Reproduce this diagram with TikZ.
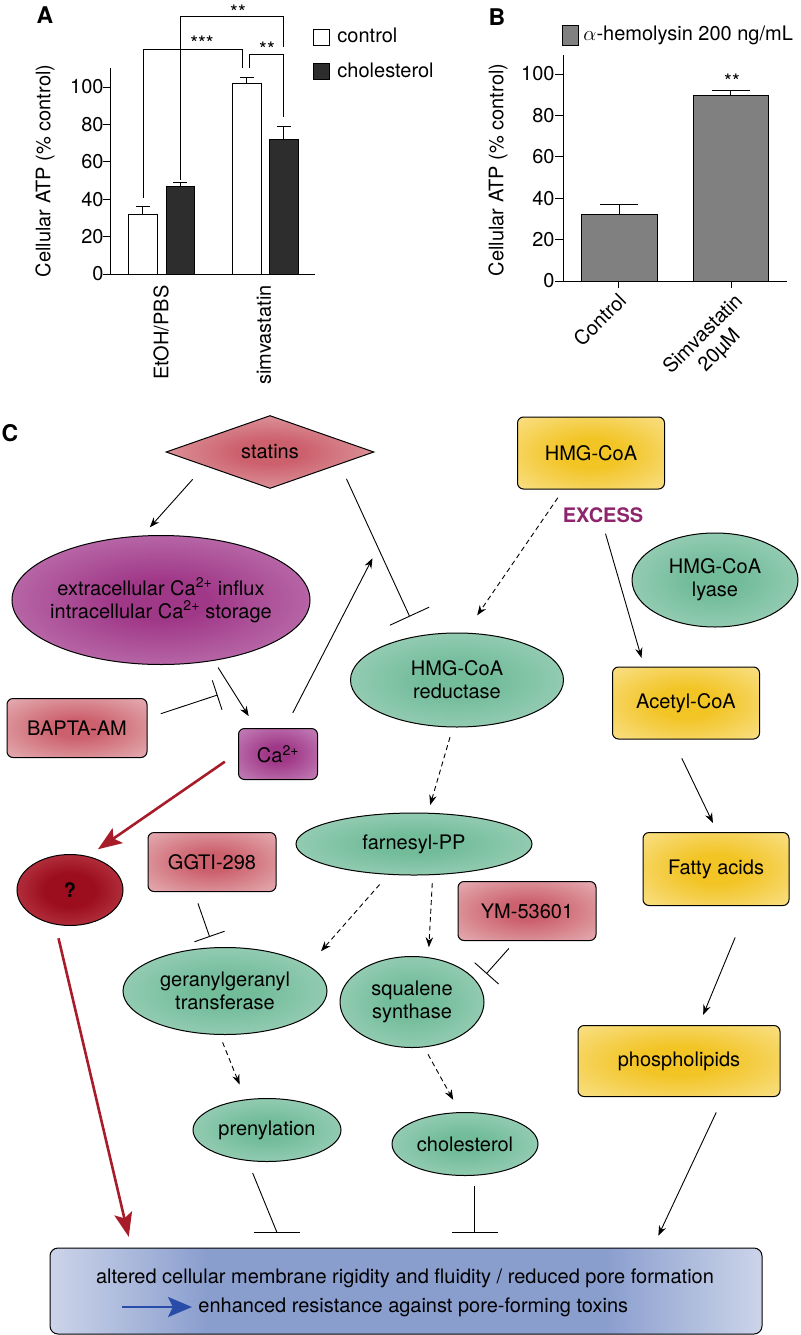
\documentclass[tikz,border=0pt]{standalone}
\usepackage{fontspec}
\setmainfont{TeX Gyre Heros}
\usetikzlibrary{shapes.geometric,arrows.meta,calc}

\definecolor{pinkC}{RGB}{204,96,108}
\definecolor{pinkE}{RGB}{232,186,190}
\definecolor{purpC}{RGB}{160,56,136}
\definecolor{purpE}{RGB}{204,146,196}
\definecolor{yellC}{RGB}{242,196,36}
\definecolor{yellE}{RGB}{250,228,150}
\definecolor{grnC}{RGB}{114,188,154}
\definecolor{grnE}{RGB}{178,218,200}
\definecolor{qC}{RGB}{156,14,30}
\definecolor{qE}{RGB}{208,92,102}
\definecolor{bluC}{RGB}{138,158,206}
\definecolor{bluE}{RGB}{204,212,233}
\definecolor{excesscol}{RGB}{142,36,108}
\definecolor{redline}{RGB}{168,28,42}
\definecolor{blueline}{RGB}{40,76,168}
\definecolor{bargray}{RGB}{128,128,128}
\definecolor{barblack}{RGB}{45,45,45}

\pgfdeclareradialshading{pinkglow}{\pgfpoint{0bp}{0bp}}{color(0bp)=(pinkC); color(8bp)=(pinkC); color(40bp)=(pinkE); color(50bp)=(pinkE)}
\pgfdeclareradialshading{purpglow}{\pgfpoint{0bp}{0bp}}{color(0bp)=(purpC); color(8bp)=(purpC); color(42bp)=(purpE); color(50bp)=(purpE)}
\pgfdeclareradialshading{yellglow}{\pgfpoint{0bp}{0bp}}{color(0bp)=(yellC); color(10bp)=(yellC); color(40bp)=(yellE); color(50bp)=(yellE)}
\pgfdeclareradialshading{grnglow}{\pgfpoint{0bp}{0bp}}{color(0bp)=(grnC); color(8bp)=(grnC); color(42bp)=(grnE); color(50bp)=(grnE)}
\pgfdeclareradialshading{qglow}{\pgfpoint{0bp}{0bp}}{color(0bp)=(qC); color(12bp)=(qC); color(45bp)=(qE); color(50bp)=(qE)}
\pgfdeclarehorizontalshading{blueband}{100bp}{color(0bp)=(bluE); color(25bp)=(bluE); color(36bp)=(bluC); color(64bp)=(bluC); color(75bp)=(bluE); color(100bp)=(bluE)}

\begin{document}
\begin{tikzpicture}[x=1pt, y=-1pt, line width=0.9pt,
  font=\fontsize{20}{23}\selectfont,
  every node/.append style={inner sep=0pt},
  panel/.style={font=\fontsize{23}{25}\selectfont\bfseries},
  box/.style={draw, rectangle, rounded corners=6pt, line width=1pt, align=center},
  oval/.style={draw, ellipse, line width=1pt, align=center},
  arr/.style={-{Stealth[length=10pt,width=7.5pt]}},
  dasharr/.style={arr, dash pattern=on 5pt off 3.5pt},
  inh/.style={-{Bar[width=#1]}}, inh/.default=40pt,
  redarr/.style={draw=redline, line width=2.6pt, -{Stealth[length=24pt,width=18pt,inset=5pt]}},
  bluearr/.style={draw=blueline, line width=2.6pt, -{Stealth[length=24pt,width=20pt,inset=5pt]}}]
\useasboundingbox (0,0) rectangle (800,1335);

% panel A
\node[panel] (labA) at (45,15) {A};
\node[rotate=90] (ylabA) at (45,171) {Cellular ATP (\% control)};
\begin{scope}[shift={(0,274)}, yscale=-1.87]
  \draw (110,110) -- (110,0) -- (315,0);
  \foreach \v in {0,20,...,100}
    \draw (103,\v) -- (110,\v) node[anchor=east, xshift=-6pt] {\v};
  \draw[fill=white] (128,0) rectangle (157,32);
  \draw (142.5,32) -- (142.5,36) (135.5,36) -- (149.5,36);
  \draw[fill=barblack] (166,0) rectangle (194,47);
  \draw (180,47) -- (180,49) (173,49) -- (187,49);
  \draw[fill=white] (232,0) rectangle (261,102);
  \draw (246.5,102) -- (246.5,105) (239.5,105) -- (253.5,105);
  \draw[fill=barblack] (269,0) rectangle (298,72);
  \draw (283.5,72) -- (283.5,79) (276.5,79) -- (290.5,79);
\end{scope}
\node[rotate=90, anchor=east] (xetoh) at (161,285) {EtOH/PBS};
\node[rotate=90, anchor=east] (xsimA) at (264,285) {simvastatin};
\draw (143,198) -- (143,49) -- (242,49) -- (242,68);
\draw (180,180) -- (180,16) -- (283,16) -- (283,47);
\draw (249,68) -- (249,54) -- (283,54) -- (283,117);
\node (sigA1) at (202,43) {***};
\node (sigA2) at (238,12.5) {**};
\node (sigA3) at (267,49) {**};
\draw[fill=white] (313,29) rectangle (329,45);
\node[anchor=west] (legctrl) at (337,35) {control};
\draw[fill=barblack] (313,63) rectangle (329,79);
\node[anchor=west] (legchol) at (337,70) {cholesterol};

% panel B
\node[panel] (labB) at (497,17) {B};
\draw[fill=bargray] (562,25) rectangle (578,45);
\node[anchor=west] (legB) at (583,35) {$\alpha$-hemolysin 200 ng/mL};
\node[rotate=90] (ylabB) at (498,170) {Cellular ATP (\% control)};
\begin{scope}[shift={(0,281)}, yscale=-2.07]
  \draw (563,109) -- (563,0) -- (787,0);
  \foreach \v in {0,20,...,100}
    \draw (555,\v) -- (563,\v) node[anchor=east, xshift=-8pt] {\v};
  \draw (618,0) -- (618,-3.4) (731,0) -- (731,-3.4);
  \draw[fill=bargray] (581,0) rectangle (657,32);
  \draw (619,32) -- (619,37) (600,37) -- (638,37);
  \draw[fill=bargray] (693,0) rectangle (768,89.5);
  \draw (730.5,89.5) -- (730.5,92) (712,92) -- (750,92);
\end{scope}
\node (sigB) at (732,81.5) {**};
\node[rotate=45, anchor=north east] (xctrl) at (617,291) {Control};
\node[rotate=45, anchor=north east, align=center] (xsimB) at (733,291) {Simvastatin\\20µM};

% panel C
\node[panel] (labC) at (10,433) {C};
\node[draw, diamond, aspect=2.85, line width=1pt, minimum width=208pt, minimum height=73pt, shading=pinkglow] (statins) at (270,452) {statins};
\node[oval, shading=purpglow, minimum width=298pt, minimum height=129pt, inner xsep=-25pt] (caflux) at (161,600) {extracellular Ca\textsuperscript{2+} influx\\intracellular Ca\textsuperscript{2+} storage};
\node[box, shading=yellglow, minimum width=147pt, minimum height=72pt] (hmgcoa) at (591,453) {HMG-CoA};
\node[text=excesscol, font=\fontsize{20}{23}\selectfont\bfseries, inner sep=2pt] (excess) at (603,515) {EXCESS};
\node[oval, shading=grnglow, minimum width=166pt, minimum height=94pt] (lyase) at (715,580) {HMG-CoA\\lyase};
\node[oval, shading=grnglow, minimum width=213pt, minimum height=94pt] (reductase) at (457,680) {HMG-CoA\\reductase};
\node[box, shading=yellglow, minimum width=147pt, minimum height=72pt] (acetyl) at (686,703) {Acetyl-CoA};
\node[box, shading=yellglow, minimum width=146pt, minimum height=73pt] (fatty) at (716,869) {Fatty acids};
\node[box, shading=yellglow, minimum width=202pt, minimum height=71pt] (phospho) at (679,1061) {phospholipids};
\node[box, shading=pinkglow, minimum width=140pt, minimum height=59pt] (bapta) at (77,728) {BAPTA-AM};
\node[box, shading=purpglow, minimum width=79pt, minimum height=51pt] (ca) at (278,754) {Ca\textsuperscript{2+}};
\node[oval, shading=grnglow, minimum width=236pt, minimum height=62pt] (farnesyl) at (414,844) {farnesyl-PP};
\node[box, shading=pinkglow, minimum width=138pt, minimum height=59pt] (ym) at (527,911) {YM-53601};
\node[oval, shading=qglow, minimum width=106pt, minimum height=71pt, font=\fontsize{20}{23}\selectfont\bfseries] (unknown) at (70,890) {?};
\node[box, shading=pinkglow, minimum width=128pt, minimum height=59pt] (ggti) at (212,862) {GGTI-298};
\node[oval, shading=grnglow, minimum width=204pt, minimum height=87pt] (ggtase) at (225,991) {geranylgeranyl\\transferase};
\node[oval, shading=grnglow, minimum width=144pt, minimum height=91pt] (squalene) at (412,1002) {squalene\\synthase};
\node[oval, shading=grnglow, minimum width=148pt, minimum height=63pt] (prenyl) at (267,1130) {prenylation};
\node[oval, shading=grnglow, minimum width=146pt, minimum height=63pt] (chol) at (465,1144) {cholesterol};
\node[box, rounded corners=8pt, shading=blueband, minimum width=712pt, minimum height=86pt] (membrane) at (406,1291) {};
\node (line1) at (405,1278) {altered cellular membrane rigidity and fluidity / reduced pore formation};
\node[anchor=west] (line2) at (198,1307) {enhanced resistance against pore-forming toxins};
\draw[bluearr] ($(line2.west)+(-76,0)$) -- ($(line2.west)+(-6,0)$);

% connectors
\draw[arr, shorten <=18pt, shorten >=11pt] (statins.192) -- (caflux.106);
\draw[inh=43pt, shorten <=16pt, shorten >=21pt] (statins.350) -- coordinate[pos=0.486] (block) (reductase.131);
\draw[arr, shorten <=17pt, shorten >=12pt] (ca.75) -- (block);
\draw[arr, shorten <=8pt, shorten >=14pt] (caflux.311) -- coordinate[pos=0.436] (cablock) (ca.130);
\draw[inh=31pt, shorten <=14pt, shorten >=15.5pt] (bapta.8) -- (cablock);
\draw[redarr, shorten <=16pt, shorten >=12pt] (ca.178) -- (unknown.62);
\draw[redarr, shorten <=14pt, shorten >=11pt] (unknown.247) -- (membrane.171);
\draw[dasharr, shorten <=10pt, shorten >=21pt] (hmgcoa.233) -- (reductase.80);
\draw[arr, shorten <=9pt, shorten >=9pt] (excess.south) -- (acetyl.139);
\draw[dasharr, shorten <=10pt, shorten >=8pt] (reductase.265) -- (farnesyl.66);
\draw[arr, shorten <=21pt, shorten >=10pt] (acetyl.250) -- (fatty.88);
\draw[dasharr, shorten <=13pt, shorten >=19pt] (farnesyl.230) -- (ggtase.17);
\draw[dasharr, shorten <=8pt, shorten >=10pt] (farnesyl.301) -- (squalene.70);
\draw[inh=32pt, shorten <=12pt, shorten >=11pt] (ggti.239) -- (ggtase.105);
\draw[inh=32pt, shorten <=10pt, shorten >=12.5pt] (ym.249) -- (squalene.16);
\draw[arr, shorten <=34pt, shorten >=11pt] (fatty.311) -- (phospho.61);
\draw[dasharr, shorten <=8pt, shorten >=16pt] (ggtase.263) -- (prenyl.125);
\draw[dasharr, shorten <=8pt, shorten >=14pt] (squalene.285) -- (chol.99);
\coordinate (pbar) at ($(membrane.north)+(-129,-15)$);
\coordinate (cbar) at ($(membrane.north)+(68.5,-15)$);
\draw[shorten <=13pt] (prenyl.238) -- (pbar);
\draw ([xshift=-23pt]pbar) -- ([xshift=23pt]pbar);
\draw[inh=46pt, shorten <=10pt] (chol.286 -| cbar) -- (cbar);
\draw[arr, shorten <=17pt, shorten >=13pt] (phospho.321) -- (membrane.10);
\end{tikzpicture}
\end{document}
